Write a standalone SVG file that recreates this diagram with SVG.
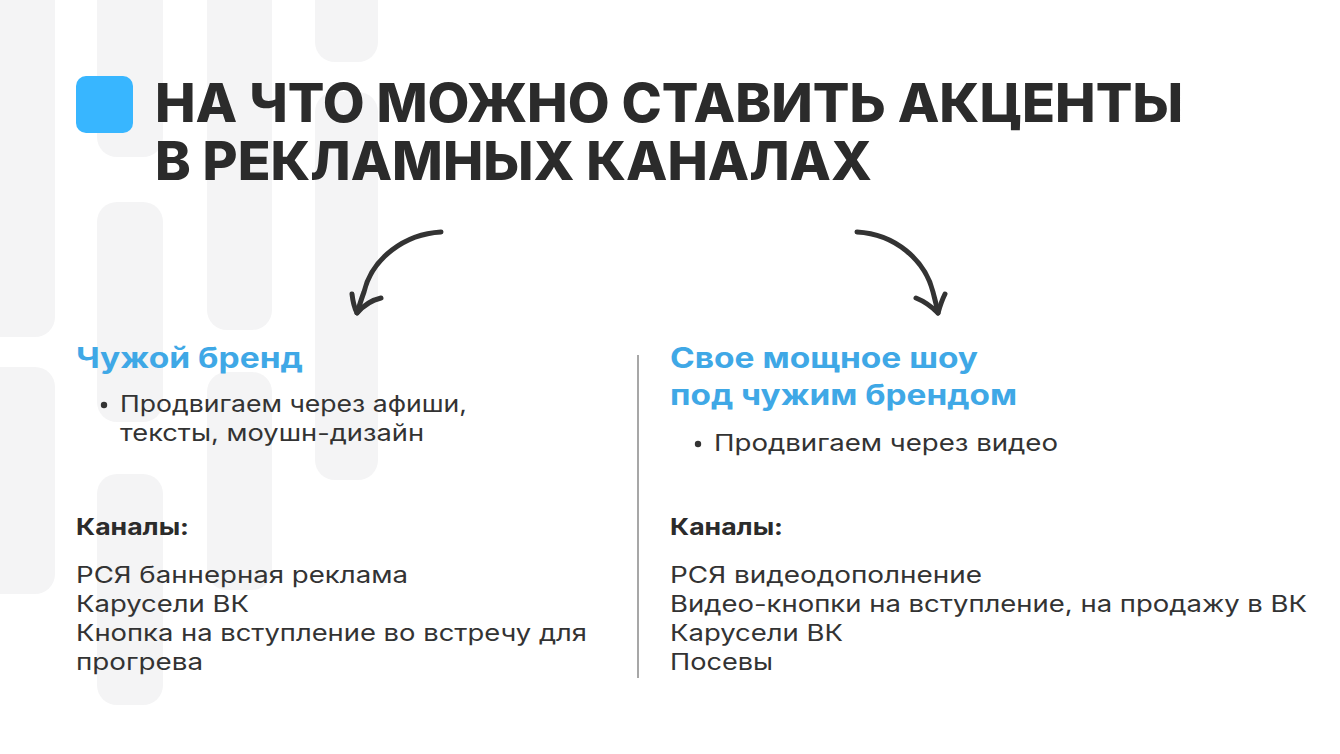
<svg xmlns="http://www.w3.org/2000/svg" width="1340" height="754" viewBox="0 0 1340 754">
<style>
.bar{fill:#f4f4f5}
.title{font-family:Inter,"Open Sans","Liberation Sans",sans-serif;font-weight:800;font-size:53px;fill:#2b2b2b}
.head{font-family:Inter,"Open Sans","Liberation Sans",sans-serif;font-weight:700;font-size:28px;fill:#3fa8e6}
.body{font-family:Inter,"Open Sans","Liberation Sans",sans-serif;font-weight:400;font-size:22.5px;fill:#333333}
.bold{font-family:Inter,"Open Sans","Liberation Sans",sans-serif;font-weight:700;font-size:22.5px;fill:#2b2b2b}
.arrow{fill:none;stroke:#333333;stroke-width:5;stroke-linecap:round;stroke-linejoin:round}
</style>
<rect width="1340" height="754" fill="#ffffff"/>
<g id="background">
<rect class="bar" x="-20" y="-30" width="75" height="367" rx="20"/>
<rect class="bar" x="-20" y="367" width="75" height="227" rx="20"/>
<rect class="bar" x="97" y="-30" width="66" height="187" rx="20"/>
<rect class="bar" x="97" y="202" width="66" height="220" rx="20"/>
<rect class="bar" x="97" y="474" width="66" height="231" rx="20"/>
<rect class="bar" x="207" y="-30" width="65" height="360" rx="20"/>
<rect class="bar" x="207" y="372" width="65" height="218" rx="20"/>
<rect class="bar" x="315" y="-30" width="63" height="92" rx="20"/>
<rect class="bar" x="315" y="92" width="63" height="388" rx="20"/>
</g>
<g id="title">
<rect x="76" y="76" width="57" height="57" rx="10" fill="#38b6ff"/>
<text class="title" x="155" y="122" textLength="1028" lengthAdjust="spacingAndGlyphs">НА ЧТО МОЖНО СТАВИТЬ АКЦЕНТЫ</text>
<text class="title" x="155" y="180" textLength="717" lengthAdjust="spacingAndGlyphs">В РЕКЛАМНЫХ КАНАЛАХ</text>
</g>
<g id="connectors">
<path class="arrow" d="M441 232 C405 234 372 258 364 292 C361 300 359 307 357 313"/>
<path class="arrow" d="M352 294 C353 303 355 309 357 313 C364 305 372 300 381 298"/>
<path class="arrow" d="M857 232 C895 234 925 260 933 292 C935 300 937 307 938 313"/>
<path class="arrow" d="M916 298 C926 302 932 307 938 313 C940 306 942 300 945 294"/>
<line x1="638" y1="355" x2="638" y2="678" stroke="#8a8a8a" stroke-width="1.5"/>
</g>
<g id="left-node">
<text class="head" x="76" y="368" textLength="227" lengthAdjust="spacingAndGlyphs">Чужой бренд</text>
<circle cx="104" cy="405" r="3.2" fill="#333333"/>
<text class="body" x="120" y="412" textLength="347" lengthAdjust="spacingAndGlyphs">Продвигаем через афиши,</text>
<text class="body" x="120" y="441" textLength="304" lengthAdjust="spacingAndGlyphs">тексты, моушн-дизайн</text>
<text class="bold" x="76" y="535" textLength="113" lengthAdjust="spacingAndGlyphs">Каналы:</text>
<text class="body" x="76" y="583" textLength="332" lengthAdjust="spacingAndGlyphs">РСЯ баннерная реклама</text>
<text class="body" x="76" y="612" textLength="173" lengthAdjust="spacingAndGlyphs">Карусели ВК</text>
<text class="body" x="76" y="641" textLength="511" lengthAdjust="spacingAndGlyphs">Кнопка на вступление во встречу для</text>
<text class="body" x="76" y="670" textLength="127" lengthAdjust="spacingAndGlyphs">прогрева</text>
</g>
<g id="right-node">
<text class="head" x="670" y="368" textLength="308" lengthAdjust="spacingAndGlyphs">Свое мощное шоу</text>
<text class="head" x="670" y="405" textLength="347" lengthAdjust="spacingAndGlyphs">под чужим брендом</text>
<circle cx="698" cy="444" r="3.2" fill="#333333"/>
<text class="body" x="714" y="451" textLength="344" lengthAdjust="spacingAndGlyphs">Продвигаем через видео</text>
<text class="bold" x="670" y="535" textLength="113" lengthAdjust="spacingAndGlyphs">Каналы:</text>
<text class="body" x="670" y="583" textLength="312" lengthAdjust="spacingAndGlyphs">РСЯ видеодополнение</text>
<text class="body" x="670" y="612" textLength="637" lengthAdjust="spacingAndGlyphs">Видео-кнопки на вступление, на продажу в ВК</text>
<text class="body" x="670" y="641" textLength="173" lengthAdjust="spacingAndGlyphs">Карусели ВК</text>
<text class="body" x="670" y="670" textLength="103" lengthAdjust="spacingAndGlyphs">Посевы</text>
</g>
</svg>
